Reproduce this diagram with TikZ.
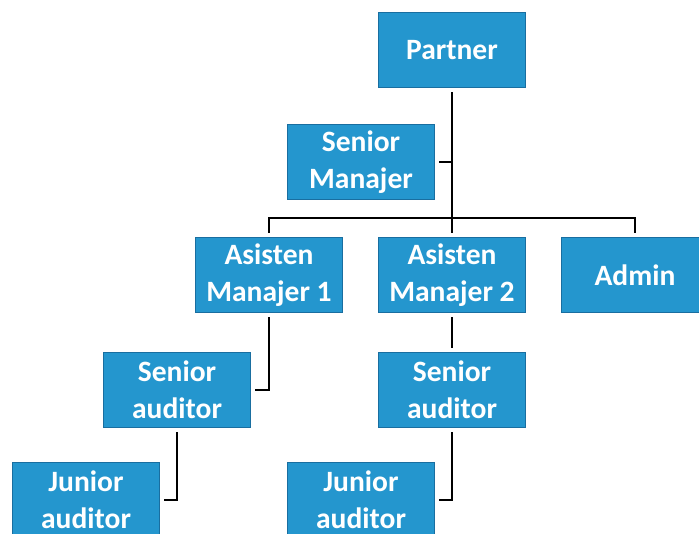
\documentclass[tikz,border=0pt]{standalone}
\usepackage{fontspec}
\setmainfont{Carlito}
\definecolor{orgblue}{RGB}{36,150,206}
\definecolor{orgedge}{RGB}{25,110,160}

\tikzset{
  jabatan/.style={draw=orgedge, line width=0.8pt, fill=orgblue, text=white,
    align=center, inner sep=0pt, minimum width=3.675cm, minimum height=1.875cm,
    font=\fontsize{21}{26.3}\selectfont\bfseries},
  garis/.style={line width=2pt, shorten <=3pt, shorten >=3pt}
}

\begin{document}
\begin{tikzpicture}[x=0.025cm,y=-0.025cm]
\useasboundingbox (0,0) rectangle (699,534);
\clip (0,0) rectangle (699,534);
% kotak jabatan
\node[jabatan] (partner) at (452,50) {Partner};
\node[jabatan] (senman) at (361,162) {Senior\\Manajer};
\node[jabatan] (as1) at (269,275) {Asisten\\Manajer 1};
\node[jabatan] (as2) at (452,275) {Asisten\\Manajer 2};
\node[jabatan] (admin) at (635,275) {Admin};
\node[jabatan] (sa1) at (177,390) {Senior\\auditor};
\node[jabatan] (sa2) at (452,390) {Senior\\auditor};
\node[jabatan] (ja1) at (86,500) {Junior\\auditor};
\node[jabatan] (ja2) at (361,500) {Junior\\auditor};
% garis
\coordinate (cabang) at (452,218);
\draw[garis] (partner.south) -- (as2.north);
\draw[garis,shorten >=0pt] (senman.east) -- (senman.east -| partner.south);
\draw[garis] (as1.north) |- (cabang) -| (admin.north);
\draw[garis] (as1.south) |- (sa1.east);
\draw[garis] (as2.south) -- (sa2.north);
\draw[garis] (sa1.south) |- (ja1.east);
\draw[garis] (sa2.south) |- (ja2.east);
\end{tikzpicture}
\end{document}
